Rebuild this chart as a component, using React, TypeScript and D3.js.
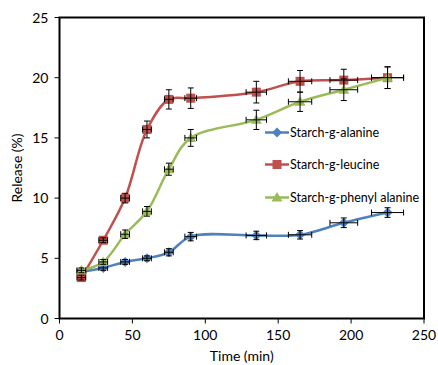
import React from "react";
import * as d3 from "d3";

const times = [15, 30, 45, 60, 75, 90, 135, 165, 195, 225];
const timeErr = [3, 3, 3, 3, 3, 4, 7, 8, 9.5, 11];
const alanine = [3.9, 4.2, 4.7, 5.0, 5.5, 6.8, 6.9, 6.95, 7.95, 8.8];
const alanineErr = [0.2, 0.2, 0.2, 0.2, 0.3, 0.35, 0.35, 0.35, 0.4, 0.4];
const leucine = [3.4, 6.5, 10.0, 15.7, 18.2, 18.3, 18.8, 19.7, 19.8, 20.0];
const leucineErr = [0.2, 0.2, 0.4, 0.7, 0.8, 0.85, 0.9, 0.9, 0.9, 0.9];
const phenyl = [4.0, 4.7, 7.0, 8.9, 12.4, 15.0, 16.5, 18.0, 19.0, 20.0];
const phenylErr = [0.2, 0.2, 0.35, 0.4, 0.5, 0.7, 0.8, 0.8, 0.9, 0.9];
const xTicks = [0, 50, 100, 150, 200, 250];
const yTicks = [0, 5, 10, 15, 20, 25];
const seriesNames = ["Starch-g-alanine", "Starch-g-leucine", "Starch-g-phenyl alanine"];
const seriesColors = ["#4F81BD", "#C0504D", "#9BBB59"];
const seriesValues = [alanine, leucine, phenyl];
const seriesErrors = [alanineErr, leucineErr, phenylErr];
const seriesShapes = ["diamond", "square", "triangle"];

const W = 438, H = 365;
const L = 59.5, R = 424, T = 17.5, B = 318.5;
const FONT = "Lato, 'Open Sans', sans-serif";

function Marker({ shape, x, y, color }: { shape: string; x: number; y: number; color: string }) {
  if (shape === "square") return <rect x={x - 4.5} y={y - 4.5} width={9} height={9} fill={color} />;
  if (shape === "diamond")
    return <path d={`M${x},${y - 5}L${x + 5},${y}L${x},${y + 5}L${x - 5},${y}Z`} fill={color} />;
  return <path d={`M${x},${y - 5.5}L${x + 5.5},${y + 4}L${x - 5.5},${y + 4}Z`} fill={color} />;
}

export default function App() {
  const x = d3.scaleLinear().domain([0, 250]).range([L, R]);
  const y = d3.scaleLinear().domain([0, 25]).range([B, T]);
  const line = d3
    .line<number>()
    .x((_, i) => x(times[i]))
    .y((d) => y(d))
    .curve(d3.curveCatmullRom.alpha(0.5));

  return (
    <svg width={W} height={H} style={{ position: "absolute", left: 0, top: 0, background: "#fff" }}>
      <rect x={0} y={0} width={W} height={H} fill="#fff" />
      <rect x={L} y={T} width={R - L} height={B - T} fill="none" stroke="#000" strokeWidth={2} />
      {xTicks.map((t) => (
        <g key={"x" + t}>
          <line x1={x(t)} x2={x(t)} y1={B} y2={B + 5} stroke="#000" strokeWidth={1} />
          <text x={x(t)} y={B + 21} textAnchor="middle" fontFamily={FONT} fontSize={14} fill="#000">
            {t}
          </text>
        </g>
      ))}
      {yTicks.map((t) => (
        <g key={"y" + t}>
          <line x1={L - 5} x2={L} y1={y(t)} y2={y(t)} stroke="#000" strokeWidth={1} />
          <text x={L - 11} y={y(t) + 5} textAnchor="end" fontFamily={FONT} fontSize={14} fill="#000">
            {t}
          </text>
        </g>
      ))}
      <text x={(L + R) / 2} y={361} textAnchor="middle" fontFamily={FONT} fontSize={14} fill="#000">
        Time (min)
      </text>
      <text
        transform={`translate(22,${(T + B) / 2}) rotate(-90)`}
        textAnchor="middle"
        fontFamily={FONT}
        fontSize={14}
        fill="#000"
      >
        Release (%)
      </text>
      {seriesValues.map((vals, s) => (
        <g key={"s" + s}>
          <path d={line(vals) || ""} fill="none" stroke={seriesColors[s]} strokeWidth={2.5} />
          {vals.map((v, i) => {
            const cx = x(times[i]);
            const cy = y(v);
            const y1 = y(v + seriesErrors[s][i]);
            const y2 = y(v - seriesErrors[s][i]);
            const x1 = x(times[i] - timeErr[i]);
            const x2 = x(times[i] + timeErr[i]);
            return (
              <g key={i}>
                <Marker shape={seriesShapes[s]} x={cx} y={cy} color={seriesColors[s]} />
                <g stroke="#000" strokeWidth={1}>
                  <line x1={cx} x2={cx} y1={y1} y2={y2} />
                  <line x1={cx - 3} x2={cx + 3} y1={y1} y2={y1} />
                  <line x1={cx - 3} x2={cx + 3} y1={y2} y2={y2} />
                  <line x1={x1} x2={x2} y1={cy} y2={cy} />
                  <line x1={x1} x2={x1} y1={cy - 3} y2={cy + 3} />
                  <line x1={x2} x2={x2} y1={cy - 3} y2={cy + 3} />
                </g>
              </g>
            );
          })}
        </g>
      ))}
      {seriesNames.map((name, i) => {
        const ly = [132.5, 164.5, 197.5][i];
        return (
          <g key={"l" + i}>
            <rect x={264} y={ly - 7} width={124 + (i === 2 ? 28 : 0)} height={14} fill="#fff" />
            <line x1={265} x2={289} y1={ly} y2={ly} stroke={seriesColors[i]} strokeWidth={2.5} />
            <Marker shape={seriesShapes[i]} x={277} y={ly} color={seriesColors[i]} />
            <text x={290} y={ly + 4.5} fontFamily={FONT} fontSize={12.5} fill="#000">
              {name}
            </text>
          </g>
        );
      })}
    </svg>
  );
}
